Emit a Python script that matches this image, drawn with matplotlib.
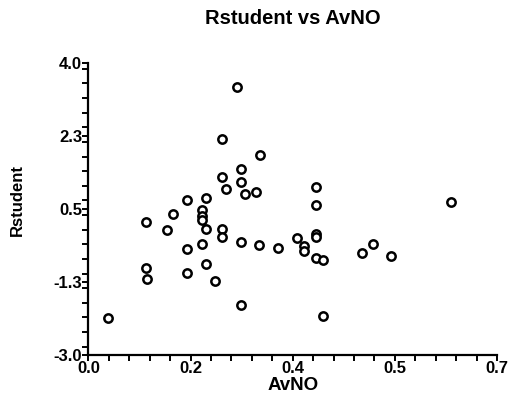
import numpy as np
import matplotlib
matplotlib.use("Agg")
import matplotlib.pyplot as plt
from matplotlib.ticker import MultipleLocator

avno = [0.033, 0.0985, 0.0985, 0.101, 0.1345, 0.144, 0.168, 0.168, 0.168,
        0.195, 0.195, 0.195, 0.195, 0.202, 0.202, 0.202, 0.217, 0.228, 0.228,
        0.228, 0.228, 0.236, 0.254, 0.261, 0.261, 0.261, 0.261, 0.269, 0.2875,
        0.294, 0.293, 0.325, 0.357, 0.369, 0.369, 0.390, 0.390, 0.390, 0.390,
        0.390, 0.402, 0.402, 0.469, 0.487, 0.519, 0.621]
rstudent = [-2.11, 0.18, -0.92, -1.19, -0.01, 0.37, 0.71, -0.46, -1.03,
            0.47, 0.32, 0.22, -0.34, 0.76, 0.02, -0.82, -1.22, 2.16, 1.27,
            0.02, -0.18, 0.97, 3.41, 1.44, 1.14, -0.30, -1.81, 0.85, 0.89,
            1.79, -0.37, -0.45, -0.19, -0.40, -0.50, 1.03, 0.58, -0.10, -0.17,
            -0.68, -0.73, -2.07, -0.57, -0.34, -0.64, 0.66]

x_ticks = np.linspace(0.0, 0.7, 5)
x_labels = ["0.0", "0.2", "0.4", "0.5", "0.7"]
y_ticks = np.linspace(-3.0, 4.0, 5)
y_labels = ["-3.0", "-1.3", "0.5", "2.3", "4.0"]

plt.rcParams['font.family'] = ['Liberation Sans', 'DejaVu Sans']

fig = plt.figure(figsize=(5.10, 4.01), dpi=100)
ax = fig.add_axes([0.1735, 0.1147, 0.801, 0.7294])

ax.plot(avno, rstudent, linestyle='none', marker='o', markersize=6,
        markerfacecolor='white', markeredgecolor='black', markeredgewidth=1.8)

ax.set_xlim(0.0, 0.7)
ax.set_ylim(-3.0, 4.0)
ax.set_xticks(x_ticks)
ax.set_xticklabels(x_labels)
ax.set_yticks(y_ticks)
ax.set_yticklabels(y_labels)
ax.xaxis.set_minor_locator(MultipleLocator(0.035))
ax.yaxis.set_minor_locator(MultipleLocator(0.35))

for s in ['top', 'right']:
    ax.spines[s].set_visible(False)
for s in ['left', 'bottom']:
    ax.spines[s].set_linewidth(1.6)

ax.tick_params(which='both', direction='out', length=4, width=1.4, color='black')
ax.tick_params(axis='x', which='major', pad=0, labelsize=12)
ax.tick_params(axis='y', which='major', pad=0.5, labelsize=12)
for lab in ax.get_xticklabels() + ax.get_yticklabels():
    lab.set_fontweight('bold')

ax.set_xlabel("AvNO", fontsize=13.5, fontweight='bold')
ax.xaxis.set_label_coords(0.5, -0.075)
ax.xaxis.label.set_va('top')
ax.set_ylabel("Rstudent", fontsize=12, fontweight='bold')
ax.yaxis.set_label_coords(-0.155, 0.53)
ax.set_title("Rstudent vs AvNO", fontsize=14.5, fontweight='bold', pad=28)

fig.savefig("out.png", dpi=100)
